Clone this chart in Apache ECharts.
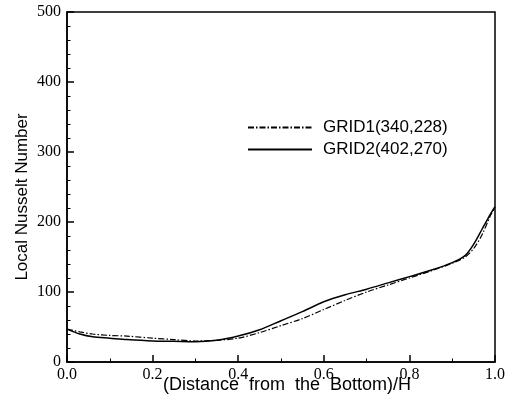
<!DOCTYPE html>
<html>
<head>
<meta charset="utf-8">
<script src="https://cdn.jsdelivr.net/npm/echarts@6/dist/echarts.min.js"></script>
<style>
  html, body { margin: 0; padding: 0; background: #fff; }
  #chart { width: 516px; height: 408px; }
</style>
</head>
<body>
<div id="chart"></div>
<script>
// distance from the bottom / H
const positions = [0.0, 0.03, 0.06, 0.1, 0.14, 0.2, 0.25, 0.3, 0.35, 0.4, 0.45, 0.5,
  0.55, 0.6, 0.65, 0.7, 0.75, 0.8, 0.85, 0.9, 0.93, 0.95, 0.97, 0.99, 1.0];
const grid1 = [47, 43, 40, 38, 37, 34, 32, 30, 31, 34, 42, 52,
  62, 75, 88, 100, 110, 120, 130, 141, 150, 162, 182, 210, 220];
const grid2 = [47, 40, 36, 34, 32, 30, 29.5, 29, 31, 37, 46, 59,
  72, 86, 96, 104, 113, 122, 131, 142, 152, 168, 190, 212, 222];
const seriesNames = ['GRID1(340,228)', 'GRID2(402,270)'];
const xTicks = [0, 0.2, 0.4, 0.6, 0.8, 1.0];
const yTicks = [0, 100, 200, 300, 400, 500];

const pairs = vals => positions.map((p, i) => [p, vals[i]]);

const chart = echarts.init(document.getElementById('chart'));

const axisCommon = {
  axisLine: { show: true, lineStyle: { color: '#000', width: 1.5 } },
  axisTick: { show: true, inside: true, length: 7, lineStyle: { color: '#000', width: 1.5 } },
  minorTick: { show: true, length: 3.5, lineStyle: { color: '#000', width: 1 } },
  splitLine: { show: false }
};

chart.setOption({
  animation: false,
  backgroundColor: '#fff',
  grid: {
    left: 67, right: 21, top: 12, bottom: 46,
    show: true, borderColor: '#000', borderWidth: 1.5
  },
  legend: {
    orient: 'vertical',
    left: 242,
    top: 114,
    itemWidth: 64,
    itemHeight: 14,
    itemGap: 5,
    itemStyle: { opacity: 0 },
    textStyle: {
      fontFamily: 'Liberation Sans', fontSize: 17, color: '#000',
      padding: [0, 0, 0, 6]
    },
    data: seriesNames
  },
  xAxis: Object.assign({}, axisCommon, {
    type: 'value',
    min: xTicks[0],
    max: xTicks[xTicks.length - 1],
    interval: 0.2,
    minorTick: Object.assign({}, axisCommon.minorTick, { splitNumber: 2 }),
    axisLabel: {
      margin: 5,
      fontFamily: 'Liberation Serif', fontSize: 16, color: '#000',
      formatter: v => v.toFixed(1)
    },
    name: '(Distance  from  the  Bottom)/H',
    nameLocation: 'middle',
    nameGap: 14,
    nameMoveOverlap: false,
    nameTextStyle: {
      fontFamily: 'Liberation Sans', fontSize: 18, color: '#000',
      padding: [0, 0, 0, 12]
    }
  }),
  yAxis: Object.assign({}, axisCommon, {
    type: 'value',
    min: yTicks[0],
    max: yTicks[yTicks.length - 1],
    interval: 100,
    minorTick: Object.assign({}, axisCommon.minorTick, { splitNumber: 5 }),
    axisLabel: {
      margin: 6,
      fontFamily: 'Liberation Serif', fontSize: 16, color: '#000'
    },
    name: 'Local Nusselt Number',
    nameLocation: 'middle',
    nameGap: 36,
    nameMoveOverlap: false,
    nameTextStyle: {
      fontFamily: 'Liberation Sans', fontSize: 17, color: '#000',
      padding: [0, 20, 0, 0]
    }
  }),
  series: [
    {
      name: seriesNames[0],
      type: 'line',
      data: pairs(grid1),
      showSymbol: false,
      symbol: 'none',
      smooth: 0.3,
      lineStyle: { color: '#000', width: 1.2, type: [6, 2, 1.5, 2] },
      itemStyle: { color: '#000' }
    },
    {
      name: seriesNames[1],
      type: 'line',
      data: pairs(grid2),
      showSymbol: false,
      symbol: 'none',
      smooth: 0.3,
      lineStyle: { color: '#000', width: 1.5, type: 'solid' },
      itemStyle: { color: '#000' }
    }
  ]
});
</script>
</body>
</html>
